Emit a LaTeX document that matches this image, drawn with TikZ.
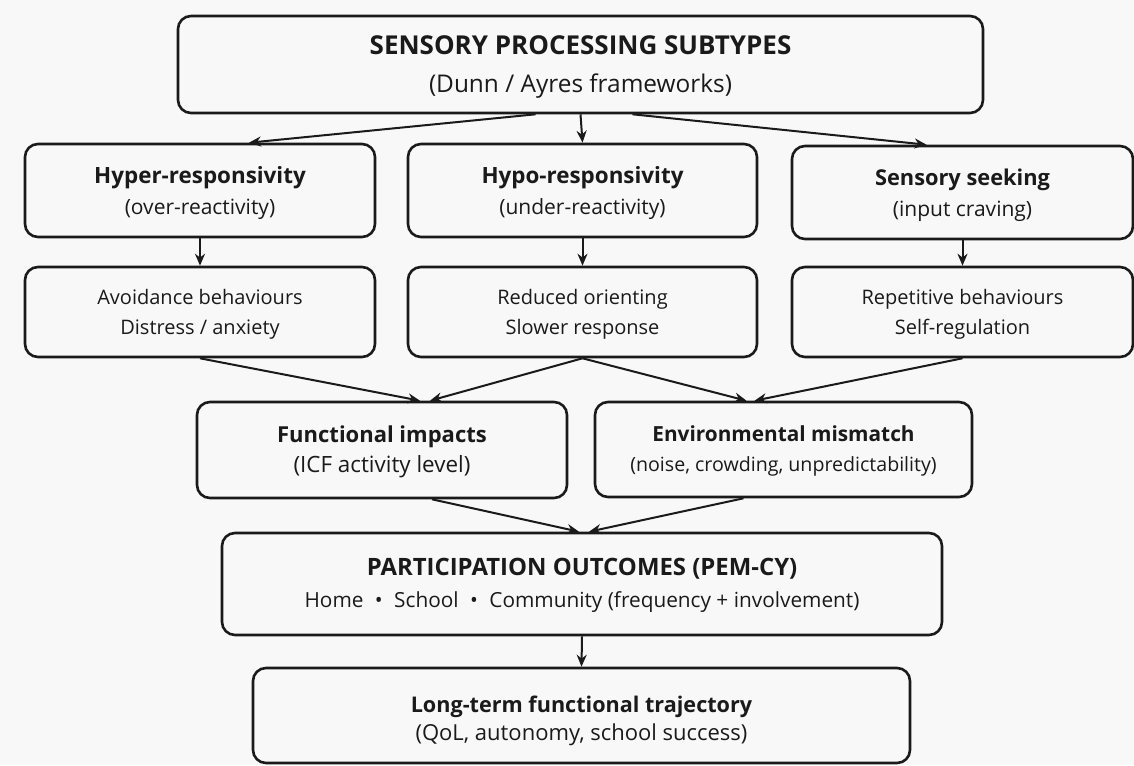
\documentclass[tikz,border=0pt]{standalone}
\usepackage{fontspec}
\setmainfont{Open Sans}
\usetikzlibrary{arrows.meta,fit,calc}
\definecolor{bg}{HTML}{F8F8F8}
\definecolor{ink}{HTML}{1A1A1A}
\begin{document}
\begin{tikzpicture}[x=0.5pt,y=-0.5pt,
  box/.style={draw=ink, line width=1.3pt, rounded corners=6.5pt, inner sep=0pt},
  lbl/.style={anchor=base, text=ink, inner sep=0pt},
  arr/.style={draw=ink, line width=1pt, -{Stealth[length=6pt,width=5pt]}}]
\fill[bg] (0,0) rectangle (1134,765);
\useasboundingbox (0,0) rectangle (1134,765);

% boxes
\node[box, fit={(178,16) (983,113)}] (top) {};
\node[box, fit={(25,144) (375,237)}] (hyper) {};
\node[box, fit={(408,144) (757,237)}] (hypo) {};
\node[box, fit={(792,146) (1133,239)}] (seek) {};
\node[box, fit={(25,267) (375,357)}] (avoid) {};
\node[box, fit={(408,267) (757,357)}] (reduced) {};
\node[box, fit={(792,267) (1133,357)}] (repet) {};
\node[box, fit={(197,402) (567,498)}] (func) {};
\node[box, fit={(595,402) (972,497)}] (env) {};
\node[box, fit={(222,533) (942,635)}] (part) {};
\node[box, fit={(253,668) (910,763)}] (traj) {};

% texts
\node[lbl, font=\bfseries\fontsize{13}{15}\selectfont] (topA) at ($(top.center)+(0,-9.5)$) {SENSORY PROCESSING SUBTYPES};
\node[lbl, font=\fontsize{12.2}{15}\selectfont] (topB) at ($(top.center)+(0,28.5)$) {(Dunn / Ayres frameworks)};

\node[lbl, font=\bfseries\fontsize{11.2}{14}\selectfont] (hyperA) at ($(hyper.center)+(0,-7.5)$) {Hyper-responsivity};
\node[lbl, font=\fontsize{10.5}{14}\selectfont] (hyperB) at ($(hyper.center)+(0,23.5)$) {(over-reactivity)};
\node[lbl, font=\bfseries\fontsize{11.2}{14}\selectfont] (hypoA) at ($(hypo.center)+(0,-7.5)$) {Hypo-responsivity};
\node[lbl, font=\fontsize{10.5}{14}\selectfont] (hypoB) at ($(hypo.center)+(0,23.5)$) {(under-reactivity)};
\node[lbl, font=\bfseries\fontsize{10.9}{14}\selectfont] (seekA) at ($(seek.center)+(0,-7.5)$) {Sensory seeking};
\node[lbl, font=\fontsize{10.5}{14}\selectfont] (seekB) at ($(seek.center)+(0,23.5)$) {(input craving)};

\node[lbl, font=\fontsize{10}{13}\selectfont] (avoidA) at ($(avoid.center)+(0,-8)$) {Avoidance behaviours};
\node[lbl, font=\fontsize{10}{13}\selectfont] (avoidB) at ($(avoid.center)+(0,22)$) {Distress / anxiety};
\node[lbl, font=\fontsize{10}{13}\selectfont] (reducedA) at ($(reduced.center)+(0,-8)$) {Reduced orienting};
\node[lbl, font=\fontsize{10}{13}\selectfont] (reducedB) at ($(reduced.center)+(0,22)$) {Slower response};
\node[lbl, font=\fontsize{10}{13}\selectfont] (repetA) at ($(repet.center)+(0,-8)$) {Repetitive behaviours};
\node[lbl, font=\fontsize{10}{13}\selectfont] (repetB) at ($(repet.center)+(0,22)$) {Self-regulation};

\node[lbl, font=\bfseries\fontsize{11}{14}\selectfont] (funcA) at ($(func.center)+(0,-8)$) {Functional impacts};
\node[lbl, font=\fontsize{11.2}{14}\selectfont] (funcB) at ($(func.center)+(0,22)$) {(ICF activity level)};
\node[lbl, font=\bfseries\fontsize{10.4}{14}\selectfont] (envA) at ($(env.center)+(0,-8)$) {Environmental mismatch};
\node[lbl, font=\fontsize{9.8}{14}\selectfont] (envB) at ($(env.center)+(0,22)$) {(noise, crowding, unpredictability)};

\node[lbl, font=\bfseries\fontsize{11.95}{14}\selectfont] (partA) at ($(part.center)+(0,-9)$) {PARTICIPATION OUTCOMES (PEM-CY)};
\node[lbl, font=\fontsize{10.4}{14}\selectfont] (partB) at ($(part.center)+(0,23)$) {Home\hspace{0.55em}\textbullet\hspace{0.55em}School\hspace{0.55em}\textbullet\hspace{0.55em}Community (frequency + involvement)};

\node[lbl, font=\bfseries\fontsize{10.8}{14}\selectfont] (trajA) at ($(traj.center)+(0,-3.5)$) {Long-term functional trajectory};
\node[lbl, font=\fontsize{11}{14}\selectfont] (trajB) at ($(traj.center)+(0,25)$) {(QoL, autonomy, school success)};

% connectors
\draw[arr] ($(top.south)+(-45,0)$) -- ($(hyper.north)+(49,0)$);
\draw[arr] (top.south) -- (hypo.north);
\draw[arr] ($(top.south)+(52,0)$) -- ($(seek.north)+(-36,0)$);

\draw[arr] (hyper.south) -- (avoid.north);
\draw[arr] (hypo.south) -- (reduced.north);
\draw[arr] (seek.south) -- (repet.north);

\draw[arr] (avoid.south) -- ($(func.north)+(38,0)$);
\draw[arr] (reduced.south) -- ($(func.north)+(48,0)$);
\draw[arr] (reduced.south) -- ($(env.north)+(-37,0)$);
\draw[arr] (repet.south) -- ($(env.north)+(-29,0)$);

\draw[arr] ($(func.south)+(50,0)$) -- ($(part.north)+(-3,0)$);
\draw[arr] ($(env.south)+(-40,0)$) -- ($(part.north)+(7,0)$);

\draw[arr] (part.south) -- (traj.north);
\end{tikzpicture}
\end{document}
